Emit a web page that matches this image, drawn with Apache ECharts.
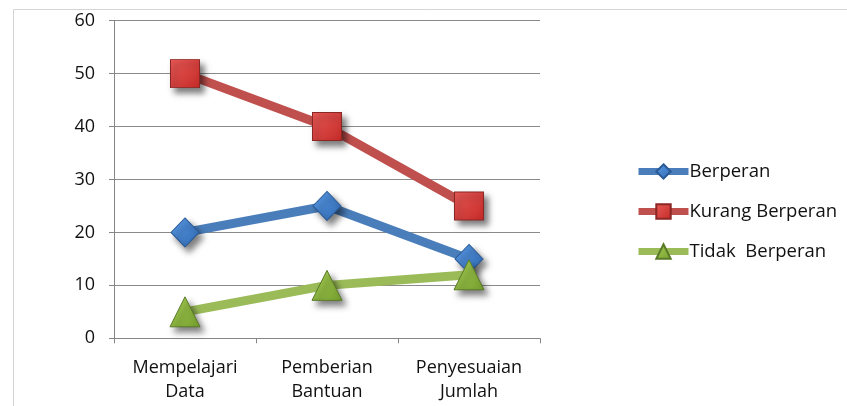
<!DOCTYPE html>
<html>
<head>
<meta charset="utf-8">
<script src="https://cdn.jsdelivr.net/npm/echarts@6/dist/echarts.min.js"></script>
<style>
html,body{margin:0;padding:0;background:#fff;}
#c{width:847px;height:406px;}
</style>
</head>
<body>
<div id="c"></div>
<script>
var categories = ['Mempelajari\nData', 'Pemberian\nBantuan', 'Penyesuaian\nJumlah'];
var seriesNames = ['Berperan', 'Kurang Berperan', 'Tidak  Berperan'];
var berperan = [20, 25, 15];
var kurangBerperan = [50, 40, 25];
var tidakBerperan = [5, 10, 12];
var yTicks = [0, 10, 20, 30, 40, 50, 60];

var FONT = 'Open Sans';
function grad(c1, c2) {
  return {type: 'linear', x: 0, y: 0, x2: 1, y2: 1,
    colorStops: [{offset: 0, color: c1}, {offset: 1, color: c2}]};
}
var shadow = {shadowColor: 'rgba(0,0,0,0.5)', shadowBlur: 6, shadowOffsetX: 4, shadowOffsetY: 5};

var chart = echarts.init(document.getElementById('c'), null, {renderer: 'canvas'});
chart.setOption({
  animation: false,
  backgroundColor: '#ffffff',
  graphic: [{
    type: 'rect', left: 11, top: 7, silent: true,
    shape: {x: 0, y: 0, width: 900, height: 500},
    style: {fill: 'none', stroke: '#d4d4d4', lineWidth: 1}
  }],
  grid: {left: 114, right: 307, top: 20.7, bottom: 67.7, containLabel: false},
  legend: {
    orient: 'vertical', left: 630, top: 157,
    itemWidth: 50, itemHeight: 18, itemGap: 21,
    data: seriesNames,
    textStyle: {fontFamily: FONT, fontSize: 18.5, color: '#111', padding: [0, 0, 0, -4]},
    lineStyle: {width: 7}
  },
  xAxis: {
    type: 'category', data: categories, boundaryGap: true,
    axisLine: {lineStyle: {color: '#868686', width: 1}},
    axisTick: {show: true, length: 5, alignWithLabel: false, lineStyle: {color: '#868686'}},
    axisLabel: {fontFamily: FONT, fontSize: 18, color: '#111', margin: 18, lineHeight: 24, interval: 0}
  },
  yAxis: {
    type: 'value', min: yTicks[0], max: yTicks[yTicks.length - 1], interval: 10,
    axisLine: {show: true, lineStyle: {color: '#868686', width: 1}},
    axisTick: {show: true, length: 5, lineStyle: {color: '#868686'}},
    splitLine: {show: true, lineStyle: {color: '#8a8a8a', width: 1}},
    axisLabel: {fontFamily: FONT, fontSize: 18, color: '#111', margin: 19}
  },
  series: [
    {
      name: seriesNames[0], type: 'line', data: berperan,
      symbol: 'diamond', symbolSize: [28, 29],
      lineStyle: {color: '#4a7ebb', width: 9},
      itemStyle: Object.assign({color: grad('#5b9be6', '#2f69b3'), borderColor: '#2a5a95', borderWidth: 1}, shadow),
      z: 2
    },
    {
      name: seriesNames[1], type: 'line', data: kurangBerperan,
      symbol: 'rect', symbolSize: [29, 28],
      lineStyle: {color: '#c0504d', width: 9},
      itemStyle: Object.assign({color: grad('#e85a57', '#c42a27'), borderColor: '#8a2624', borderWidth: 1}, shadow),
      z: 3
    },
    {
      name: seriesNames[2], type: 'line', data: tidakBerperan,
      symbol: 'triangle', symbolSize: [30, 30],
      lineStyle: {color: '#9bbb59', width: 9},
      itemStyle: Object.assign({color: grad('#a6cc55', '#76a02e'), borderColor: '#5a7a28', borderWidth: 1}, shadow),
      z: 4
    }
  ]
});
</script>
</body>
</html>
